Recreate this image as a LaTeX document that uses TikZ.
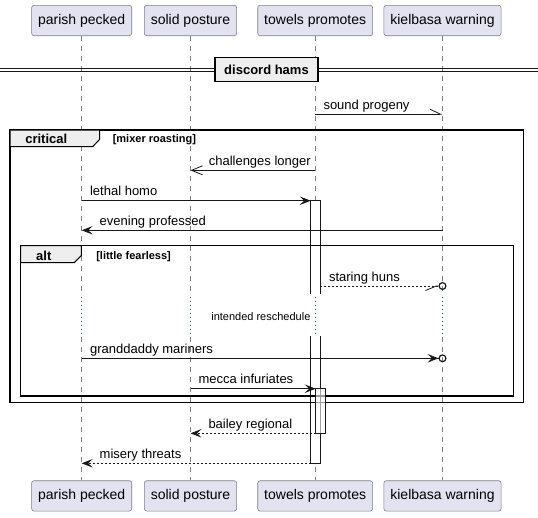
\documentclass[tikz,border=0pt]{standalone}
\usepackage{fontspec}
\setmainfont{Liberation Sans}
\usetikzlibrary{arrows.meta}
\definecolor{partfill}{HTML}{E2E2F0}
\definecolor{ink}{HTML}{181818}
\definecolor{tabfill}{HTML}{EEEEEE}
\definecolor{delayred}{HTML}{A80036}
\tikzstyle{participant}=[draw=ink!55, line width=0.6pt, fill=partfill, rounded corners=2.5pt, minimum height=30.4pt, inner xsep=6.5pt, font=\fontsize{14}{16}\selectfont]
\tikzstyle{lifeline}=[ink!55, line width=0.6pt, dash pattern=on 5pt off 5pt]
\tikzstyle{delayline}=[delayred, line width=1pt, dash pattern=on 1pt off 3pt]
\tikzstyle{message}=[ink, line width=0.8pt]
\tikzstyle{reply}=[message, dash pattern=on 2pt off 2pt]
\tikzstyle{filledhead}=[-{Stealth[length=11pt,width=8.5pt,inset=4.5pt]}]
\tikzstyle{openhead}=[-{Straight Barb[length=11pt,width=9pt,line width=0.8pt]}]
\tikzstyle{halfup}=[-{Straight Barb[harpoon,length=10.5pt,width=10pt,line width=0.8pt]}]
\tikzstyle{halfdownlost}=[-{Straight Barb[harpoon,swap,length=11pt,width=9pt,line width=0.8pt] Circle[open,length=8pt,width=8pt,line width=1.2pt]}]
\tikzstyle{filledlost}=[-{Stealth[length=11pt,width=8.5pt,inset=4.5pt] Circle[open,length=8pt,width=8pt,line width=1.2pt]}]
\tikzstyle{msgtext}=[font=\fontsize{13}{15}\selectfont, inner sep=0pt, anchor=base west]
\tikzstyle{delaytext}=[font=\fontsize{11}{13}\selectfont, inner sep=0pt, anchor=base east]
\tikzstyle{groupframe}=[draw=black, line width=1.5pt]
\tikzstyle{grouptab}=[draw=black, fill=tabfill, line width=1pt]
\tikzstyle{tabtext}=[font=\bfseries\fontsize{13}{15}\selectfont, inner sep=0pt, anchor=base]
\tikzstyle{guardtext}=[font=\bfseries\fontsize{11}{13}\selectfont, inner sep=0pt, anchor=base west]
\tikzstyle{divider}=[draw=black, line width=1.5pt, fill=tabfill, minimum width=103pt, minimum height=24.4pt, inner sep=0pt, font=\bfseries\fontsize{13}{15}\selectfont]
\tikzstyle{actbox}=[draw=ink, fill=white, line width=0.8pt]

\begin{document}
\begin{tikzpicture}[x=1pt, y=-1pt]
\useasboundingbox (0,0) rectangle (538,517);

\node[participant] (pp) at (81.7,20.5) {parish pecked};
\node[participant] (sp) at (190.5,20.5) {solid posture};
\node[participant] (tp) at (315.2,20.5) {towels promotes};
\node[participant] (kw) at (442.5,20.5) {kielbasa warning};
\node[participant] (pp2) at (81.7,495.9) {parish pecked};
\node[participant] (sp2) at (190.5,495.9) {solid posture};
\node[participant] (tp2) at (315.2,495.9) {towels promotes};
\node[participant] (kw2) at (442.5,495.9) {kielbasa warning};

\foreach \p in {pp,sp,tp,kw} {
  \draw[lifeline] (\p.south) -- (\p |- 0,294);
  \draw[delayline] (\p |- 0,297) -- (\p |- 0,336);
  \draw[lifeline] (\p |- 0,337) -- (\p2.north);
}

\draw[ink, line width=1pt] (0,68.3) -- (538,68.3) (0,71.3) -- (538,71.3);
\node[divider] (discord) at (266.5,69.5) {discord hams};

\coordinate (act1l) at (310.7,0);
\coordinate (act1r) at (320.3,0);
\coordinate (act2l) at (315.7,0);
\coordinate (kwring) at (446.5,0);
\filldraw[actbox] (310.7,294.3) |- (320.3,200.7) -- (320.3,294.3);
\filldraw[actbox] (310.7,335.7) |- (320.3,463.3) -- (320.3,335.7);

\draw[groupframe] (10,130) rectangle (523.3,402.7);
\filldraw[grouptab] (10,130) -- (99.5,130) -- (99.5,139.5) -- (92.7,146.7) -- (10,146.7) -- cycle;
\node[tabtext] (critical) at (46.3,143.4) {critical};
\node[guardtext] (criticalguard) at (112.6,142.5) {[mixer roasting]};

\draw[groupframe] (20.5,245.7) rectangle (513.7,396);
\filldraw[grouptab] (20.5,245.7) -- (81.3,245.7) -- (81.3,255.5) -- (74.3,262.5) -- (20.5,262.5) -- cycle;
\node[tabtext] (alt) at (43.8,260.2) {alt};
\node[guardtext] (altguard) at (96.1,259.8) {[little fearless]};

\filldraw[actbox, fill opacity=0.6] (315.7,388.7) rectangle (325.3,433.3);

\draw[message, halfup] (tp |- 0,114.3) -- (kw |- 0,114.3);
\node[msgtext] (soundlbl) at (323.3,109.3) {sound progeny};
\draw[message, openhead] (tp |- 0,170.3) -- (sp |- 0,170.3);
\node[msgtext] (challengeslbl) at (208.6,165.3) {challenges longer};
\draw[message, filledhead] (pp |- 0,200.7) -- (act1l |- 0,200.7);
\node[msgtext] (lethallbl) at (89.9,195.7) {lethal homo};
\draw[message, filledhead] (kw |- 0,230.3) -- (pp |- 0,230.3);
\node[msgtext] (eveninglbl) at (99.5,225.3) {evening professed};
\draw[reply, halfdownlost] (act1r |- 0,286) -- (kwring |- 0,286);
\node[msgtext] (staringlbl) at (328.8,281) {staring huns};
\node[delaytext] (delaynote) at (310.6,320) {intended reschedule};
\draw[message, filledlost] (pp |- 0,358.3) -- (kwring |- 0,358.3);
\node[msgtext] (granddaddylbl) at (89.9,353.3) {granddaddy mariners};
\draw[message, filledhead] (sp |- 0,388.7) -- (act2l |- 0,388.7);
\node[msgtext] (meccalbl) at (198.4,383.7) {mecca infuriates};
\draw[reply, filledhead] (act2l |- 0,433.3) -- (sp |- 0,433.3);
\node[msgtext] (baileylbl) at (208.3,428.3) {bailey regional};
\draw[reply, filledhead] (act1l |- 0,463.3) -- (pp |- 0,463.3);
\node[msgtext] (miserylbl) at (99.5,458.3) {misery threats};
\end{tikzpicture}
\end{document}
